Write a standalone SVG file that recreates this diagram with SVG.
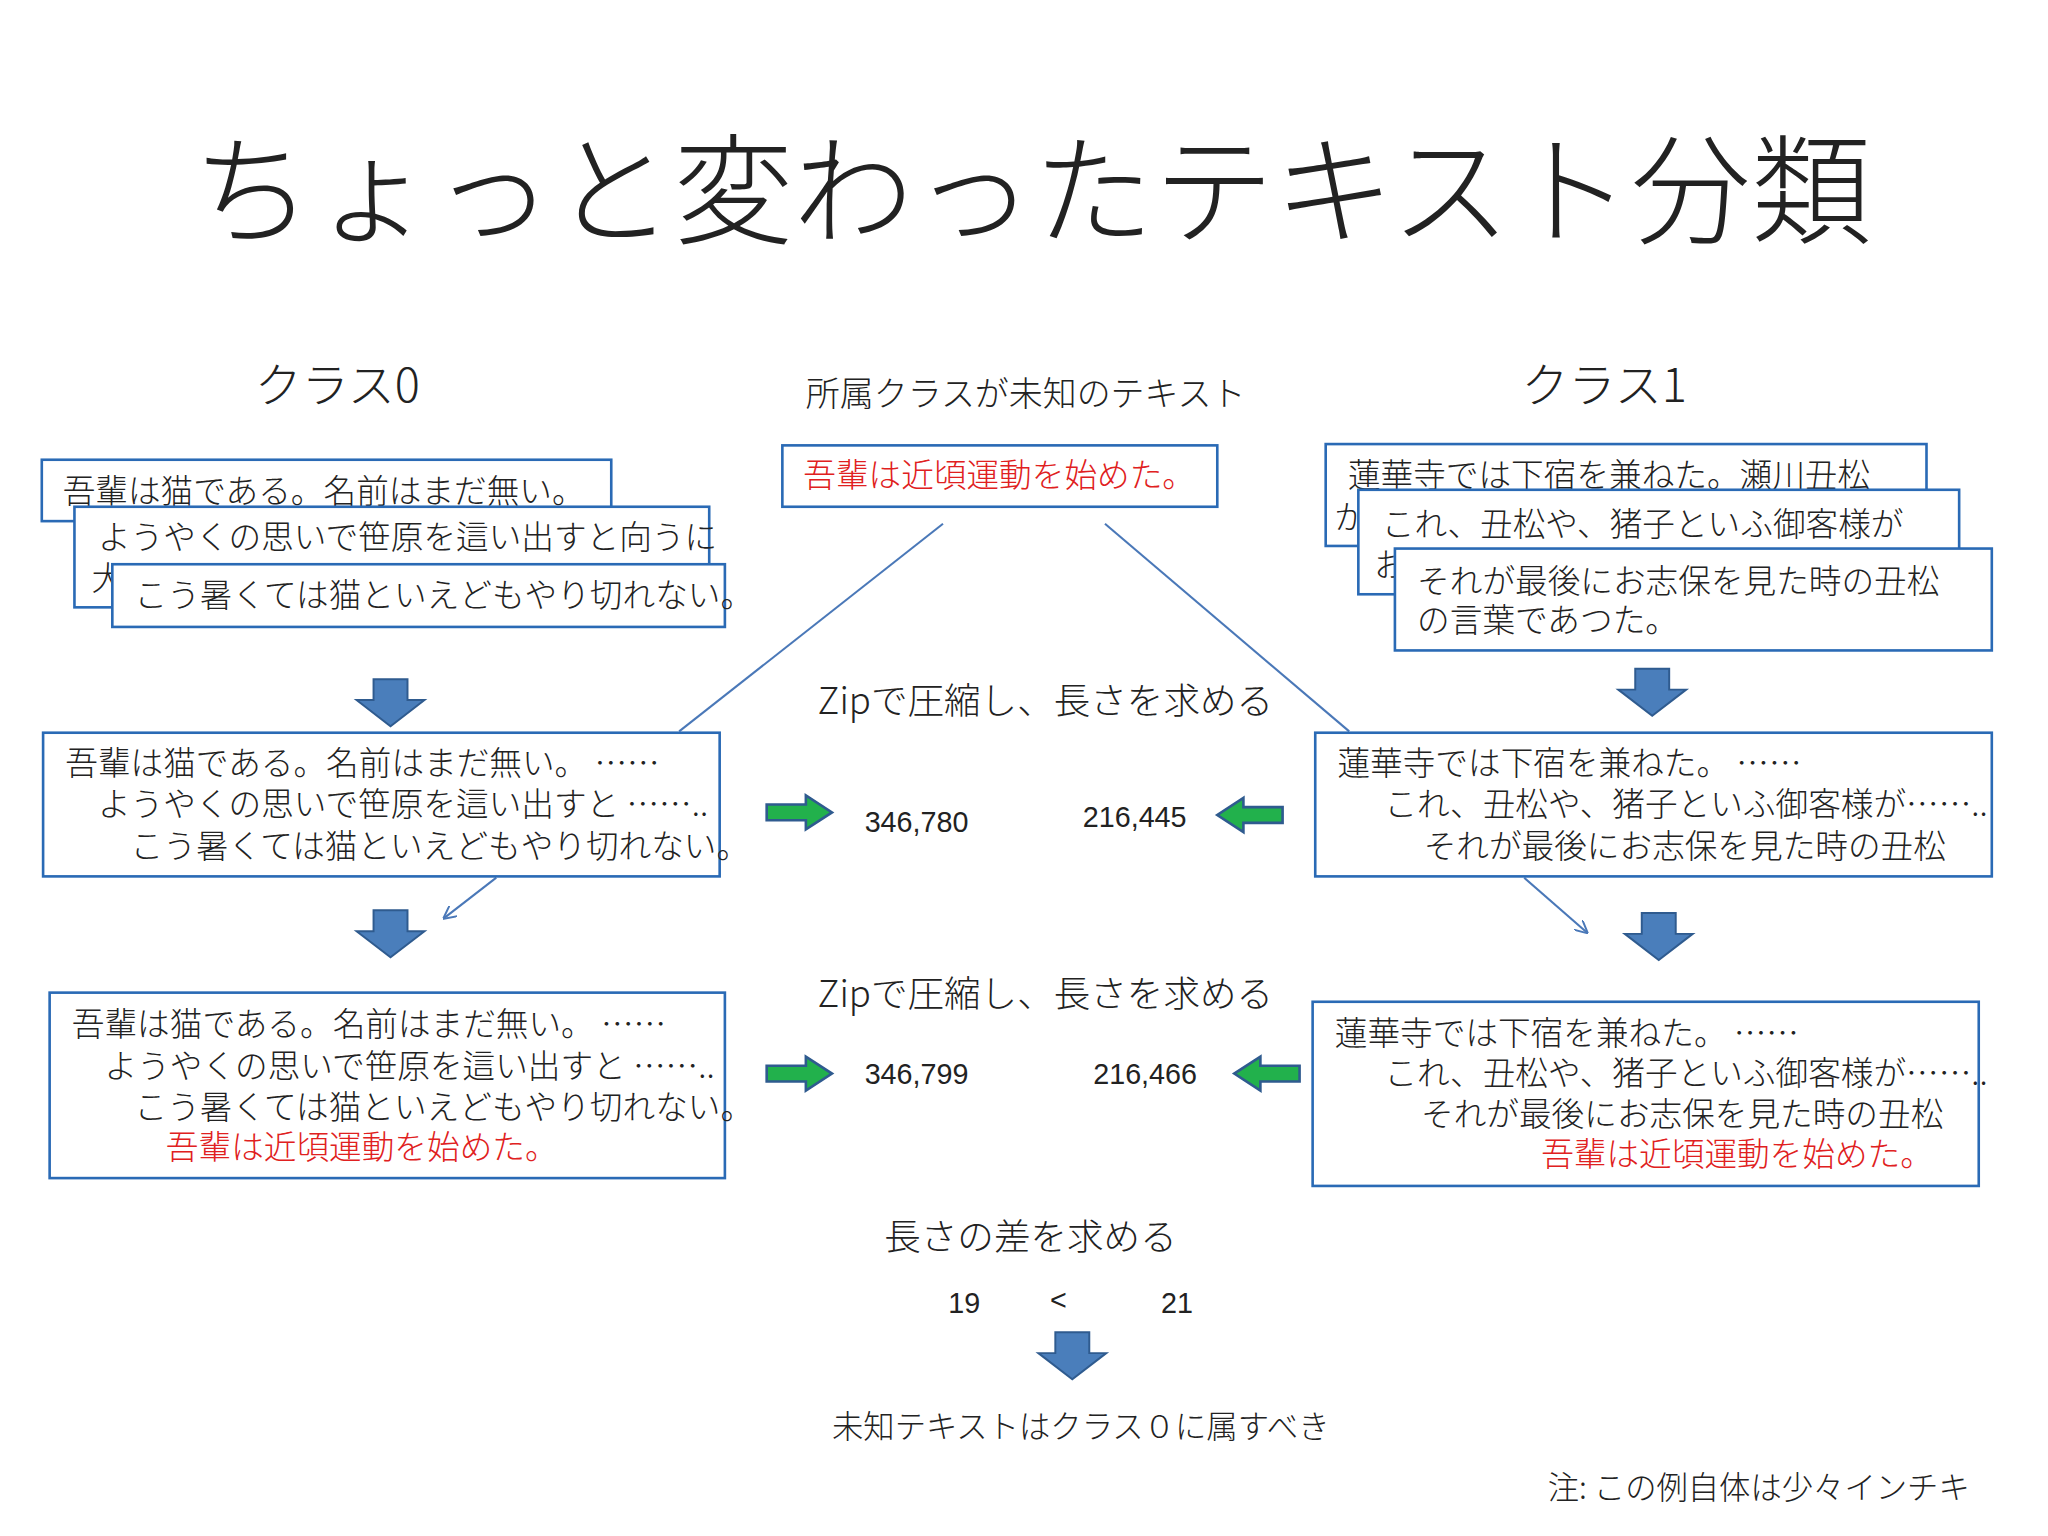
<svg xmlns="http://www.w3.org/2000/svg" width="2048" height="1536" viewBox="0 0 2048 1536">
<defs>
<style>
text{font-family:"Noto Sans CJK JP","Noto Sans",sans-serif;font-weight:300;fill:#222}
.t{font-size:25px}
.r{fill:#e02020}
.n{font-family:"Liberation Sans","Noto Sans",sans-serif;font-weight:400;font-size:22px}
.box{fill:#fff;stroke:#2a6ab5;stroke-width:2}
.ln{stroke:#4a78b8;stroke-width:1.6;fill:none}
</style>
<marker id="ah" viewBox="0 0 10 10" refX="9" refY="5" markerWidth="10" markerHeight="10" orient="auto" markerUnits="userSpaceOnUse"><path d="M0,0 L10,5 L0,10" fill="none" stroke="#4a78b8" stroke-width="1.5"/></marker>
<path id="down" d="M-13,0 H13 V16 H26 L0,36 L-26,16 H-13 Z" fill="#4a7ebb" stroke="#2f5b8f" stroke-width="1.5"/>
<path id="right" d="M0,-6 H30 V-13 L50,0 L30,13 V6 H0 Z" fill="#22b14c" stroke="#2f5b8f" stroke-width="2"/>
</defs>
<rect width="2048" height="1536" fill="#fff"/>
<g transform="scale(1.3061)">
<text x="790" y="180" font-size="92" text-anchor="middle">ちょっと変わったテキスト分類</text>
<text x="195" y="308" font-size="36">クラス0</text>
<text x="617" y="311" font-size="26">所属クラスが未知のテキスト</text>
<text x="1165" y="308" font-size="36">クラス1</text>

<g id="unknown"><rect class="box" x="599" y="341" width="333" height="47"/><text class="t r" x="615" y="373">吾輩は近頃運動を始めた。</text></g>

<g id="class0-docs">
<rect class="box" x="32" y="352" width="436" height="47"/><text class="t" x="48" y="385">吾輩は猫である。名前はまだ無い。</text>
<rect class="box" x="57" y="388" width="486" height="77"/><text class="t" x="75" y="420">ようやくの思いで笹原を這い出すと向うに</text><text class="t" x="70" y="452">大</text>
<rect class="box" x="86" y="432" width="469" height="48"/><text class="t" x="103" y="465">こう暑くては猫といえどもやり切れない。</text>
</g>
<g id="class1-docs">
<rect class="box" x="1015" y="340" width="460" height="78"/><text class="t" x="1032" y="373">蓮華寺では下宿を兼ねた。瀬川丑松</text><text class="t" x="1022" y="405">が</text>
<rect class="box" x="1040" y="375" width="460" height="80"/><text class="t" x="1058" y="410">これ、丑松や、猪子といふ御客様が</text><text class="t" x="1052" y="442">お</text>
<rect class="box" x="1068" y="420" width="457" height="78"/><text class="t" x="1085" y="454">それが最後にお志保を見た時の丑松</text><text class="t" x="1085" y="484">の言葉であつた。</text>
</g>

<g id="connectors">
<line class="ln" x1="722" y1="401" x2="520" y2="560"/>
<line class="ln" x1="846" y1="401" x2="1033" y2="560"/>
<line class="ln" x1="380" y1="672" x2="340" y2="703" marker-end="url(#ah)"/>
<line class="ln" x1="1167" y1="672" x2="1215" y2="714" marker-end="url(#ah)"/>
<use href="#down" x="299" y="520"/>
<use href="#down" x="1265" y="512"/>
<use href="#down" x="299" y="697"/>
<use href="#down" x="1270" y="699"/>
<use href="#down" x="821" y="1020"/>
<use href="#right" x="587" y="622"/>
<use href="#right" transform="translate(982,624) scale(-1,1)"/>
<use href="#right" x="587" y="822"/>
<use href="#right" transform="translate(995,822) scale(-1,1)"/>
</g>

<text x="626" y="547" font-size="28">Zipで圧縮し、長さを求める</text>
<text x="626" y="771" font-size="28">Zipで圧縮し、長さを求める</text>

<g id="concat0"><rect class="box" x="33" y="561" width="518" height="110"/>
<text class="t" x="50" y="593">吾輩は猫である。名前はまだ無い。 ……</text>
<text class="t" x="75" y="625">ようやくの思いで笹原を這い出すと ……..</text>
<text class="t" x="100" y="657">こう暑くては猫といえどもやり切れない。</text></g>
<g id="concat1"><rect class="box" x="1007" y="561" width="518" height="110"/>
<text class="t" x="1024" y="593">蓮華寺では下宿を兼ねた。 ……</text>
<text class="t" x="1060" y="625">これ、丑松や、猪子といふ御客様が……..</text>
<text class="t" x="1090" y="657">それが最後にお志保を見た時の丑松</text></g>
<text class="n" x="662" y="637">346,780</text><text class="n" x="829" y="633">216,445</text>

<g id="concat0u"><rect class="box" x="38" y="760" width="517" height="142"/>
<text class="t" x="55" y="793">吾輩は猫である。名前はまだ無い。 ……</text>
<text class="t" x="80" y="825">ようやくの思いで笹原を這い出すと ……..</text>
<text class="t" x="103" y="857">こう暑くては猫といえどもやり切れない。</text>
<text class="t r" x="127" y="887">吾輩は近頃運動を始めた。</text></g>
<g id="concat1u"><rect class="box" x="1005" y="767" width="510" height="141"/>
<text class="t" x="1022" y="800">蓮華寺では下宿を兼ねた。 ……</text>
<text class="t" x="1060" y="831">これ、丑松や、猪子といふ御客様が……..</text>
<text class="t" x="1088" y="862">それが最後にお志保を見た時の丑松</text>
<text class="t r" x="1180" y="893">吾輩は近頃運動を始めた。</text></g>
<text class="n" x="662" y="830">346,799</text><text class="n" x="837" y="830">216,466</text>

<text x="677" y="957" font-size="28">長さの差を求める</text>
<text class="n" x="726" y="1005">19</text><text class="n" x="804" y="1003">&lt;</text><text class="n" x="889" y="1005">21</text>
<text x="637" y="1101" font-size="24">未知テキストはクラス０に属すべき</text>
<text x="1185" y="1148" font-size="24">注: この例自体は少々インチキ</text>
</g>
</svg>
